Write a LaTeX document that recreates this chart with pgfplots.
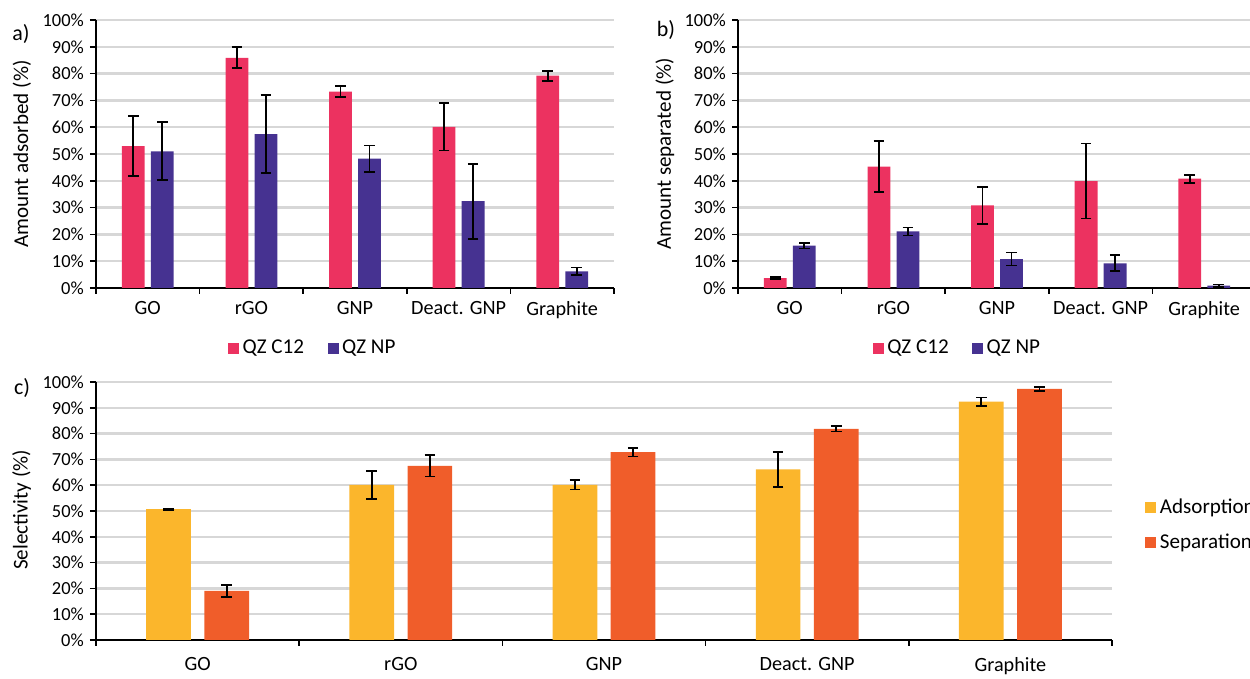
\documentclass[border=0pt]{standalone}
\usepackage{pgfplots}
\pgfplotsset{compat=1.18}
\usepackage{fontspec}
\setmainfont{Carlito}
\definecolor{qzred}{RGB}{236,50,96}
\definecolor{qzblue}{RGB}{70,50,145}
\definecolor{adsy}{RGB}{251,182,44}
\definecolor{sepo}{RGB}{240,93,42}
\definecolor{gridg}{RGB}{215,215,215}
\pgfplotsset{
 mybase/.style={
  scale only axis,
  ybar, bar width=0.22,
  ymin=0, ymax=100, xmin=-0.5, xmax=4.5,
  axis x line*=bottom, axis y line*=left,
  axis line style={-, line width=1.2pt, black},
  ytick={0,10,...,100},
  yticklabel={\pgfmathprintnumber{\tick}\%},
  /pgf/number format/assume math mode=true,
  ymajorgrids, grid style={gridg, line width=1.4pt},
  xtick={-0.5,0.5,1.5,2.5,3.5,4.5},
  xticklabels={},
  extra x ticks={0,1,2,3,4},
  extra x tick labels={GO,rGO,GNP,Deact. GNP,Graphite},
  extra x tick style={major tick length=0pt},
  tick align=outside,
  major tick length=0.12cm,
  tick style={line width=1pt, black},
  yticklabel style={font=\fontsize{10.5}{12}\selectfont},
  xticklabel style={font=\fontsize{11.5}{13}\selectfont},
  ylabel style={font=\fontsize{12}{14}\selectfont, anchor=center},
  legend style={draw=none, fill=none, font=\fontsize{12}{14}\selectfont},
  error bars/y dir=both, error bars/y explicit,
  error bars/error bar style={line width=1pt, black},
  error bars/error mark options={rotate=90, mark size=3pt, line width=1pt, black},
 },
 redleg/.style={legend image code/.code={\fill[qzred] (0cm,-0.11cm) rectangle (0.22cm,0.11cm);}},
 blueleg/.style={legend image code/.code={\fill[qzblue] (0cm,-0.11cm) rectangle (0.22cm,0.11cm);}},
 yleg/.style={legend image code/.code={\fill[adsy] (0cm,-0.11cm) rectangle (0.22cm,0.11cm);}},
 oleg/.style={legend image code/.code={\fill[sepo] (0cm,-0.11cm) rectangle (0.22cm,0.11cm);}},
}
\begin{document}
\begin{tikzpicture}
\useasboundingbox (0cm,0cm) rectangle (25cm,13.58cm);
% panel a
\begin{axis}[mybase, at={(1.92cm,7.82cm)}, anchor=south west, width=10.36cm, height=5.36cm,
  xticklabel style={yshift=-0.15cm},
  ylabel={Amount adsorbed (\%)}, ylabel style={at={(axis description cs:-0.143,0.5)}},
  legend columns=2,
  legend style={at={(axis description cs:0.42,-0.224)}, anchor=center,
   /tikz/every even column/.append style={column sep=0.4cm}}]
\addplot+[fill=qzred, draw=none, bar shift=-0.14, redleg] coordinates
 {(0,52.9) +- (0,11.2) (1,85.9) +- (0,3.9) (2,73.3) +- (0,2.0) (3,60.1) +- (0,8.8) (4,79.2) +- (0,1.9)};
\addplot+[fill=qzblue, draw=none, bar shift=0.14, blueleg] coordinates
 {(0,51.0) +- (0,10.8) (1,57.4) +- (0,14.5) (2,48.3) +- (0,4.9) (3,32.4) +- (0,14.0) (4,6.2) +- (0,1.4)};
\legend{QZ C12, QZ NP}
\end{axis}
% panel b
\begin{axis}[mybase, at={(14.76cm,7.82cm)}, anchor=south west, width=10.36cm, height=5.36cm,
  xticklabel style={yshift=-0.15cm},
  ylabel={Amount separated (\%)}, ylabel style={at={(axis description cs:-0.141,0.5)}},
  legend columns=2,
  legend style={at={(axis description cs:0.425,-0.224)}, anchor=center,
   /tikz/every even column/.append style={column sep=0.4cm}}]
\addplot+[fill=qzred, draw=none, bar shift=-0.14, redleg] coordinates
 {(0,3.7) +- (0,0.3) (1,45.3) +- (0,9.5) (2,30.8) +- (0,7.0) (3,39.9) +- (0,14.0) (4,40.8) +- (0,1.5)};
\addplot+[fill=qzblue, draw=none, bar shift=0.14, blueleg] coordinates
 {(0,15.8) +- (0,1.1) (1,21.1) +- (0,1.5) (2,10.8) +- (0,2.4) (3,9.2) +- (0,3.0) (4,0.9) +- (0,0.4)};
\legend{QZ C12, QZ NP}
\end{axis}
% panel c
\begin{axis}[mybase, at={(1.92cm,0.78cm)}, anchor=south west, width=20.32cm, height=5.16cm,
  xticklabel style={yshift=-0.22cm},
  ylabel={Selectivity (\%)}, ylabel style={at={(axis description cs:-0.0733,0.504)}},
  legend cell align=left,
  legend style={at={(axis description cs:1.0325,0.446)}, anchor=west, inner sep=0pt,
   row sep=0.2cm}]
\addplot+[fill=adsy, draw=none, bar shift=-0.143, yleg] coordinates
 {(0,50.7) +- (0,0.3) (1,60.1) +- (0,5.5) (2,60.1) +- (0,1.8) (3,66.1) +- (0,6.8) (4,92.4) +- (0,1.6)};
\addplot+[fill=sepo, draw=none, bar shift=0.143, oleg] coordinates
 {(0,19.0) +- (0,2.4) (1,67.5) +- (0,4.1) (2,72.8) +- (0,1.7) (3,81.8) +- (0,1.0) (4,97.3) +- (0,0.9)};
\legend{Adsorption, Separation}
\end{axis}
\node[font=\fontsize{12.5}{15}\selectfont] at (0.42cm,12.9cm) {a)};
\node[font=\fontsize{12.5}{15}\selectfont] at (13.32cm,12.98cm) {b)};
\node[font=\fontsize{12.5}{15}\selectfont] at (0.44cm,5.82cm) {c)};
\end{tikzpicture}
\end{document}
